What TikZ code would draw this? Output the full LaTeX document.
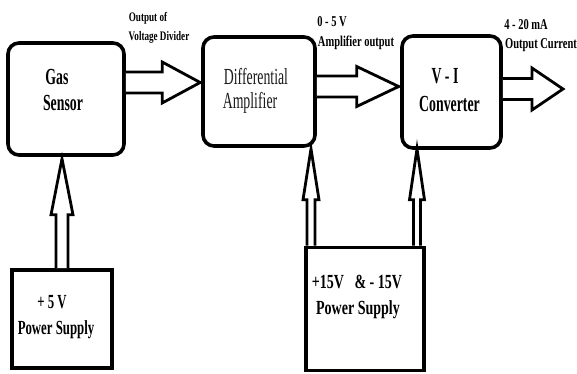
\documentclass[tikz,border=0pt]{standalone}
\usepackage{fontspec}
\usetikzlibrary{calc}
\newfontfamily\tnr[FakeStretch=0.7]{Liberation Serif}
\newfontfamily\tnrc[FakeStretch=0.6]{Liberation Serif}
\newfontfamily\tnrp[FakeStretch=0.64]{Liberation Serif}
\newcommand\hblock[5]{%
  \draw[blockarrow] let \p1=(#1), \p2=(#2) in
    (\x1,\y2+#3) -- (\x2-#5,\y2+#3) -- (\x2-#5,\y2+#4) -- (\x2,\y2)
    -- (\x2-#5,\y2-#4) -- (\x2-#5,\y2-#3) -- (\x1,\y2-#3);}
\newcommand\vblock[5]{%
  \draw[blockarrow] let \p1=(#1), \p2=(#2) in
    (\x2-#3,\y1) -- (\x2-#3,\y2-#5) -- (\x2-#4,\y2-#5) -- (\x2,\y2)
    -- (\x2+#4,\y2-#5) -- (\x2+#3,\y2-#5) -- (\x2+#3,\y1);}
\tikzset{
  rbox/.style={draw, line width=3.6pt, rounded corners=11pt, inner sep=0pt},
  sbox/.style={draw, line width=3.6pt, inner sep=0pt},
  blockarrow/.style={draw, line width=2.8pt, line join=miter, fill=white},
  big/.style={font=\tnrc\fontsize{23}{26}\selectfont, inner sep=0pt},
  bigb/.style={font=\tnrc\bfseries\fontsize{23}{26}\selectfont, inner sep=0pt},
  lab/.style={font=\tnr\bfseries\fontsize{13}{15}\selectfont, inner sep=0pt},
  labb/.style={font=\tnr\bfseries\fontsize{15}{17}\selectfont, inner sep=0pt},
  psa/.style={font=\tnrp\bfseries\fontsize{20}{23}\selectfont, inner sep=0pt},
  psb/.style={font=\tnr\bfseries\fontsize{20}{23}\selectfont, inner sep=0pt},
}
\begin{document}
\begin{tikzpicture}[x=1pt, y=-1pt]
\useasboundingbox (0,0) rectangle (577,373);
% boxes
\node[rbox, minimum width=116pt, minimum height=112pt] (gas) at (66,99) {};
\node[rbox, minimum width=112pt, minimum height=109pt] (diff) at (259,91.5) {};
\node[rbox, minimum width=99pt, minimum height=112pt] (vi) at (451.5,92) {};
\node[sbox, minimum width=100pt, minimum height=98pt] (ps5) at (62,319) {};
\node[sbox, minimum width=118pt, minimum height=123pt] (ps15) at (365,309) {};
% box texts
\node[bigb] (gasA) at (57,77) {Gas};
\node[bigb] (gasB) at (63,103) {Sensor};
\node[big, text=black!90] (diffA) at (256,77) {Differential};
\node[big, text=black!90] (diffB) at (250,103) {Amplifier};
\node[bigb] (viA) at (445,76) {V - I};
\node[bigb] (viB) at (449.5,104) {Converter};
\node[psa] (ps5A) at (52,302) {+ 5 V};
\node[psa] (ps5B) at (56,330) {Power Supply};
\node[psb] (ps15A) at (357,282) {+15V\ \ \ \& - 15V};
\node[psb] (ps15B) at (358,310) {Power Supply};
% connector labels
\node[lab] (l1a) at (148,18) {Output of};
\node[lab] (l1b) at (159,37) {Voltage Divider};
\node[labb] (l2a) at (332,22) {0 - 5 V};
\node[labb] (l2b) at (356,43) {Amplifier output};
\node[labb] (l3a) at (526,25) {4 - 20 mA};
\node[labb] (l3b) at (541,45) {Output Current};
% arrow tips
\coordinate (t1) at ($(diff.west)+(-1,-9)$);
\coordinate (t2) at ($(vi.west)+(-1.5,-5.5)$);
\coordinate (out) at (563,89);
\coordinate (t4) at ($(gas.south)+(-4,2)$);
\coordinate (t5) at ($(diff.south)+(52,1)$);
\coordinate (t6) at ($(vi.south)+(-34.5,-1)$);
% block arrows
\hblock{gas.east}{t1}{10.5pt}{20.5pt}{38pt}
\hblock{diff.east}{t2}{10.5pt}{20pt}{42pt}
\hblock{vi.east}{out}{10.5pt}{21pt}{31pt}
\vblock{ps5.north}{t4}{6pt}{11pt}{56pt}
\vblock{ps15.north}{t5}{4pt}{8pt}{51pt}
\vblock{ps15.north}{t6}{3.5pt}{7.5pt}{51pt}
\end{tikzpicture}
\end{document}
